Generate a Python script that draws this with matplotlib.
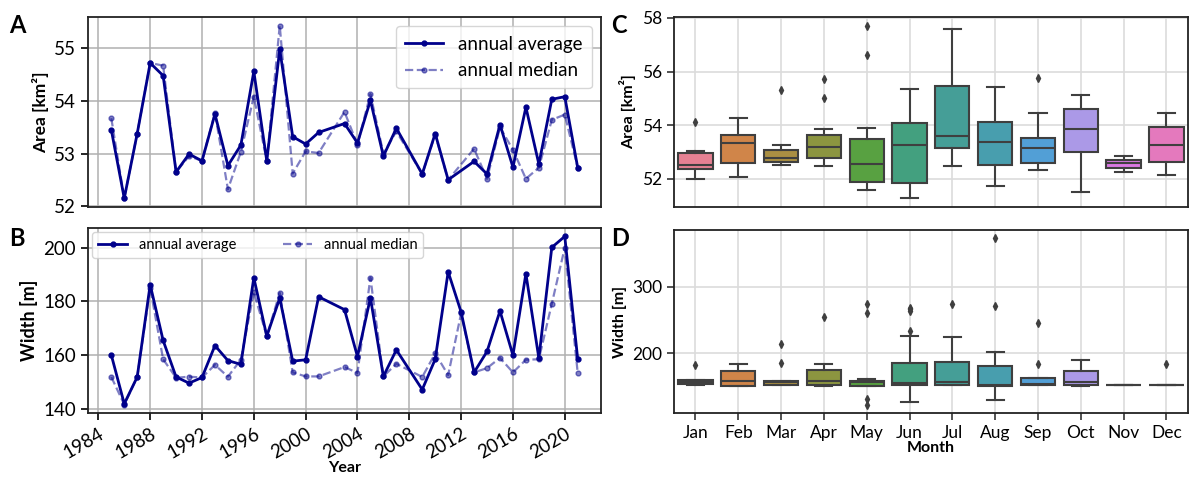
import numpy as np
import matplotlib
matplotlib.use("Agg")
import matplotlib.pyplot as plt
import seaborn as sns

plt.rcParams["font.family"] = ["Lato", "DejaVu Sans"]

# --- annual series (panels A, B) ---
years_area = [1985, 1986, 1987, 1988, 1989, 1990, 1991, 1992, 1993, 1994, 1995,
              1996, 1997, 1998, 1999, 2000, 2001, 2003, 2004, 2005, 2006, 2007,
              2009, 2010, 2011, 2013, 2014, 2015, 2016, 2017, 2018, 2019, 2020, 2021]
area_mean = [53.45, 52.15, 53.38, 54.72, 54.48, 52.65, 52.99, 52.86, 53.75, 52.77, 53.16,
             54.56, 52.86, 54.98, 53.32, 53.18, 53.40, 53.57, 53.20, 54.01, 52.95, 53.48,
             52.61, 53.38, 52.50, 52.85, 52.61, 53.55, 52.74, 53.88, 52.80, 54.03, 54.08, 52.73]
area_median = [53.67, 52.15, 53.38, 54.72, 54.67, 52.65, 52.95, 52.86, 53.77, 52.32, 53.03,
               54.08, 52.86, 55.43, 52.62, 53.04, 53.01, 53.79, 53.17, 54.13, 53.00, 53.42,
               52.61, 53.36, 52.50, 53.09, 52.52, 53.50, 53.07, 52.52, 52.73, 53.64, 53.74, 52.73]

years_width = [1985, 1986, 1987, 1988, 1989, 1990, 1991, 1992, 1993, 1994, 1995,
               1996, 1997, 1998, 1999, 2000, 2001, 2003, 2004, 2005, 2006, 2007,
               2009, 2010, 2011, 2012, 2013, 2014, 2015, 2016, 2017, 2018, 2019, 2020, 2021]
width_mean = [160.0, 141.8, 151.8, 186.2, 165.4, 151.8, 149.5, 151.6, 163.5, 157.9, 156.5,
              188.8, 167.0, 181.2, 157.7, 158.2, 181.7, 176.9, 159.4, 181.3, 152.0, 161.9,
              147.1, 158.4, 191.0, 176.0, 153.5, 161.3, 176.4, 159.9, 190.3, 158.8, 200.1, 204.2, 158.4]
width_median = [151.8, 141.5, 151.8, 185.0, 158.4, 151.5, 151.9, 151.6, 156.3, 151.9, 158.2,
                183.4, 167.0, 183.2, 153.5, 152.0, 152.0, 155.5, 153.3, 188.8, 152.0, 156.7,
                151.8, 160.6, 152.5, 175.5, 153.5, 155.1, 158.9, 153.5, 158.2, 158.4, 179.1, 200.0, 153.3]

# --- monthly box statistics (panels C, D) ---
months = ["Jan", "Feb", "Mar", "Apr", "May", "Jun",
          "Jul", "Aug", "Sep", "Oct", "Nov", "Dec"]

area_lo = [52.01, 52.07, 52.52, 52.48, 51.57, 51.28, 52.48, 51.72, 52.35, 51.52, 52.27, 52.15]
area_q1 = [52.37, 52.61, 52.62, 52.78, 51.90, 51.86, 53.17, 52.51, 52.61, 53.00, 52.42, 52.62]
area_med = [52.53, 53.34, 52.78, 53.20, 52.56, 53.25, 53.59, 53.38, 53.15, 53.86, 52.58, 53.28]
area_q3 = [52.95, 53.65, 53.08, 53.65, 53.50, 54.08, 55.45, 54.13, 53.54, 54.59, 52.72, 53.95]
area_hi = [53.05, 54.28, 53.26, 53.87, 53.90, 55.36, 57.57, 55.42, 54.45, 55.12, 52.87, 54.44]
area_fliers = [[54.13], [], [55.30], [55.71, 55.00], [57.71, 56.62], [],
               [], [], [55.76], [], [], []]

width_lo = [152.2, 151.2, 152.0, 151.2, 150.2, 126.9, 152.2, 129.9, 152.2, 150.2, 152.7, 152.7]
width_q1 = [153.2, 151.2, 152.7, 151.7, 150.7, 151.7, 152.2, 151.2, 152.2, 151.7, 152.7, 152.7]
width_med = [156.2, 158.2, 156.2, 158.7, 156.2, 154.7, 156.2, 151.7, 153.0, 157.2, 152.7, 152.7]
width_q3 = [159.2, 172.6, 158.7, 175.1, 158.2, 184.6, 186.1, 181.1, 162.2, 173.1, 152.7, 152.7]
width_hi = [160.0, 183.1, 158.7, 184.1, 160.7, 225.4, 224.4, 202.0, 162.2, 189.6, 152.7, 152.7]
width_fliers = [[182.6], [], [184.6, 213.9], [253.7], [273.6, 260.7, 131.3, 122.4],
                [233.8, 262.5, 265.5, 267.5], [273.6], [270.6, 372.6],
                [183.1, 245.8], [], [], [183.1]]

LINE_COLOR = "#00008b"
palette = [sns.desaturate(c, 0.75) for c in sns.husl_palette(len(months))]


def box_stats(lo, q1, med, q3, hi, fliers):
    return [dict(whislo=a, q1=b, med=c, q3=d, whishi=e, fliers=f, label=m)
            for a, b, c, d, e, f, m in zip(lo, q1, med, q3, hi, fliers, months)]


def draw_series(ax, years, mean, median):
    ax.plot(years, mean, color=LINE_COLOR, lw=2, marker="o", ms=3.5,
            label="annual average", zorder=3)
    ax.plot(years, median, color=LINE_COLOR, lw=1.6, ls="--", marker="o", ms=3.5,
            alpha=0.5, label="annual median", zorder=2)
    ax.grid(color="#b0b0b0", lw=1.1)
    ax.tick_params(labelsize=13.5, width=1.2, length=5)
    for s in ax.spines.values():
        s.set_linewidth(1.3)
        s.set_color("#222222")


def draw_boxes(ax, stats):
    bp = ax.bxp(stats, positions=range(len(stats)), widths=0.8, patch_artist=True,
                showfliers=True,
                boxprops=dict(edgecolor="#3f3f3f", linewidth=1.5),
                medianprops=dict(color="#3f3f3f", linewidth=1.5),
                whiskerprops=dict(color="#3f3f3f", linewidth=1.5),
                capprops=dict(color="#3f3f3f", linewidth=1.5),
                flierprops=dict(marker="d", markerfacecolor="#3f3f3f",
                                markeredgecolor="#3f3f3f", markersize=4))
    for patch, col in zip(bp["boxes"], palette):
        patch.set_facecolor(col)
    ax.set_xlim(-0.5, len(stats) - 0.5)
    ax.set_axisbelow(True)
    ax.grid(color="#dcdcdc", lw=1.2)
    ax.tick_params(labelsize=12.5, width=1.2, length=5, color="#333333")
    for s in ax.spines.values():
        s.set_linewidth(1.3)
        s.set_color("#222222")


fig = plt.figure(figsize=(11.89, 4.8), dpi=100)
axA = fig.add_axes([0.074, 0.569, 0.4315, 0.3956])
axB = fig.add_axes([0.074, 0.1396, 0.4315, 0.3854], sharex=axA)
axC = fig.add_axes([0.5669, 0.569, 0.4321, 0.3956])
axD = fig.add_axes([0.5669, 0.1396, 0.4321, 0.3814])

draw_series(axA, years_area, area_mean, area_median)
axA.set_ylabel("Area [km²]", fontsize=12.5, fontweight="bold")
axA.tick_params(axis="x", labelbottom=False, length=0)
axA.legend(loc="upper right", fontsize=13.5, framealpha=0.8, borderpad=0.5)

draw_series(axB, years_width, width_mean, width_median)
axB.set_ylabel("Width [m]", fontsize=13, fontweight="bold")
axB.set_xlabel("Year", fontsize=11.5, fontweight="bold", labelpad=0)
axB.set_xticks(range(1984, 2021, 4))
axB.set_yticks([140, 160, 180, 200])
plt.setp(axB.get_xticklabels(), rotation=30, ha="right", rotation_mode="anchor")
axB.legend(loc="upper left", ncol=2, fontsize=10.5, columnspacing=3.2,
           framealpha=0.8, borderaxespad=0.3)

draw_boxes(axC, box_stats(area_lo, area_q1, area_med, area_q3, area_hi, area_fliers))
axC.set_ylabel("Area [km²]", fontsize=11.5, fontweight="bold")
axC.set_yticks([52, 54, 56, 58])
axC.tick_params(axis="x", labelbottom=False, length=0)

draw_boxes(axD, box_stats(width_lo, width_q1, width_med, width_q3, width_hi, width_fliers))
axD.set_ylabel("Width [m]", fontsize=11.5, fontweight="bold")
axD.set_xlabel("Month", fontsize=11.5, fontweight="bold", labelpad=0)
axD.set_yticks([200, 300])
axD.set_xticks(range(len(months)))
axD.set_xticklabels(months)

for label, x, y in [("A", 0.008, 0.97), ("B", 0.008, 0.528),
                    ("C", 0.514, 0.97), ("D", 0.514, 0.528)]:
    fig.text(x, y, label, fontsize=17, fontweight="bold", va="top")

fig.savefig("out.png", dpi=100)
